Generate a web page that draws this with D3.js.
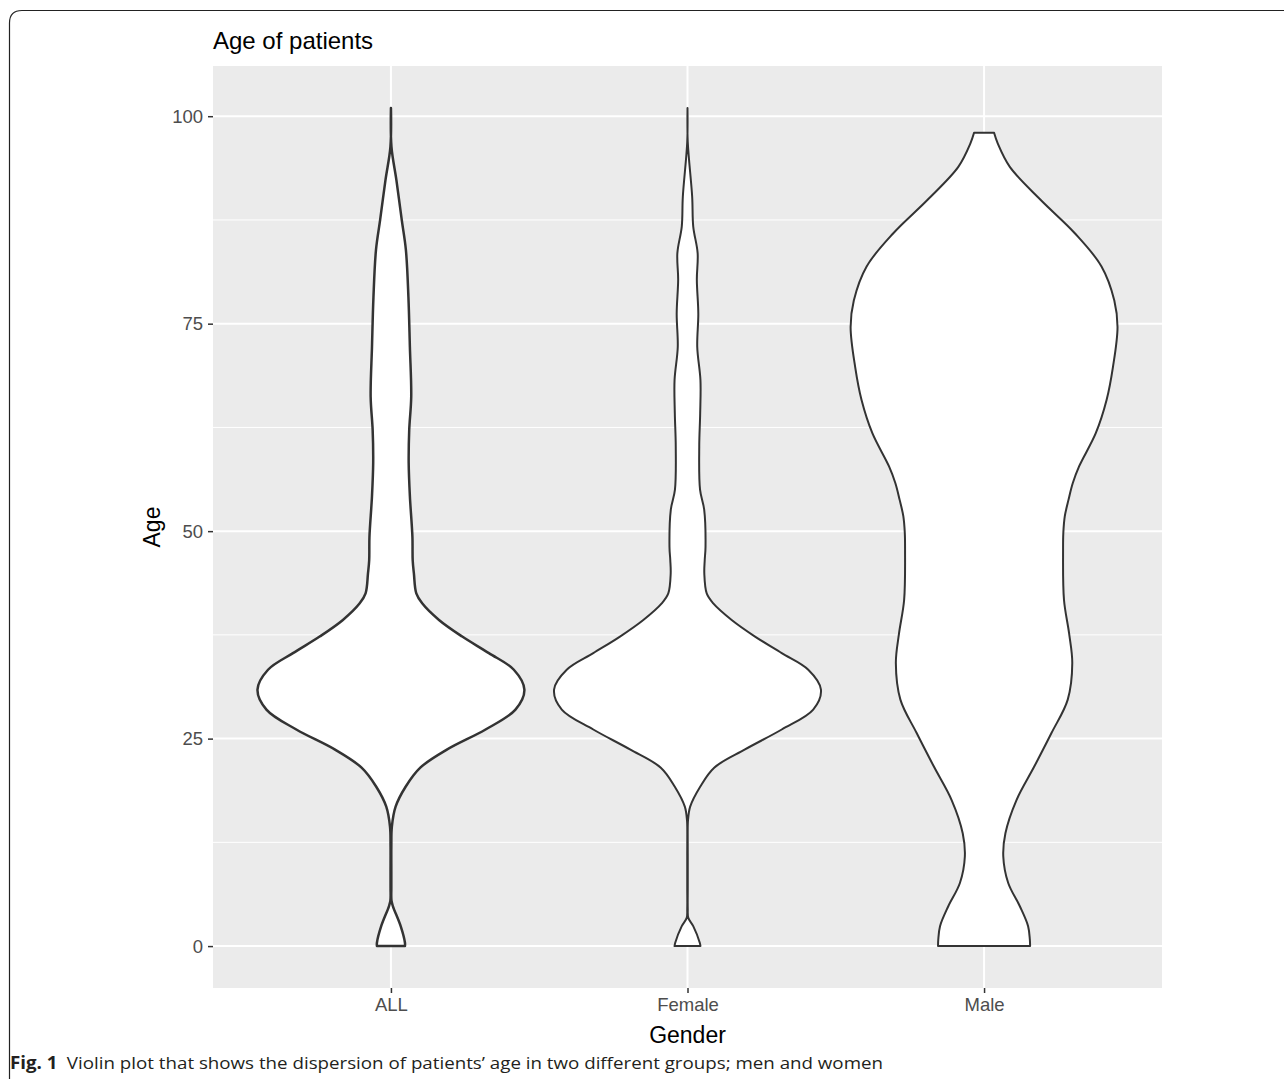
<!DOCTYPE html>
<html>
<head>
<meta charset="utf-8">
<script src="https://cdn.jsdelivr.net/npm/d3@7"></script>
<style>
  body { margin: 0; background: #fff; }
  svg { display: block; }
</style>
</head>
<body>
<div id="chart"></div>
<script>
// groups and y ticks
const groups = ["ALL", "Female", "Male"];
const yTicks = [0, 25, 50, 75, 100];
const yMinor = [12.5, 37.5, 62.5, 87.5];

// violin outlines: age and scaled width (1 = widest violin)
const allAge   = [101, 96.3, 92.3, 87.5, 83.9, 78.2, 72.2, 66.2, 62.2, 58.2, 54.2, 49.3, 46.5, 44.9, 42.5, 41.3, 39.3, 37.3, 35.3, 33.3, 30.9, 28.5, 26.1, 23.7, 21.5, 19.2, 16.8, 14.4, 12, 9, 7, 5.5, 4.8, 2.4, 0.4, 0];
const allWidth = [0, 0.004, 0.041, 0.081, 0.112, 0.131, 0.142, 0.152, 0.137, 0.133, 0.142, 0.161, 0.163, 0.172, 0.19, 0.234, 0.36, 0.534, 0.734, 0.921, 1.0, 0.933, 0.709, 0.422, 0.22, 0.11, 0.035, 0.007, 0.003, 0.003, 0.003, 0.004, 0.015, 0.073, 0.105, 0.105];

const femaleAge   = [101, 96.9, 90.3, 86.7, 83.5, 80.3, 76.2, 72.2, 68.2, 64.2, 60.2, 55, 52.6, 48.1, 46.5, 44.9, 42.5, 41.3, 39.3, 37.3, 35.3, 33.3, 30.9, 28.5, 26.1, 23.7, 21.5, 19.2, 16.8, 15.2, 14.5, 11, 7, 4.5, 3.4, 2.4, 0.4, 0];
const femaleWidth = [0, 0.002, 0.035, 0.043, 0.076, 0.07, 0.081, 0.073, 0.097, 0.095, 0.088, 0.094, 0.125, 0.135, 0.129, 0.126, 0.144, 0.193, 0.331, 0.506, 0.706, 0.905, 1.0, 0.942, 0.706, 0.431, 0.2, 0.095, 0.02, 0.004, 0.002, 0.002, 0.002, 0.002, 0.006, 0.043, 0.092, 0.097];

const maleAge   = [98, 96.7, 93.9, 89.9, 85.9, 81.9, 77.8, 74.6, 69.8, 65.8, 61.8, 57.8, 55.8, 53.8, 51.8, 49.8, 47.7, 41.7, 37.7, 34.1, 29.7, 25.7, 21.6, 17.6, 13.6, 10.8, 7.6, 4.8, 2.4, 0.8, 0];
const maleWidth = [0.075, 0.103, 0.193, 0.425, 0.68, 0.88, 0.976, 1.0, 0.966, 0.918, 0.837, 0.712, 0.665, 0.633, 0.605, 0.594, 0.592, 0.599, 0.637, 0.661, 0.627, 0.506, 0.375, 0.243, 0.16, 0.144, 0.181, 0.268, 0.33, 0.343, 0.345];

const violins = [
  {group: "ALL", age: allAge, width: allWidth, stroke: 2.5},
  {group: "Female", age: femaleAge, width: femaleWidth, stroke: 2},
  {group: "Male", age: maleAge, width: maleWidth, stroke: 2}
];

const W = 1284, H = 1079;
const panel = {left: 213, right: 1162, top: 66, bottom: 988};
const font = "'Liberation Sans', Arial, sans-serif";

const svg = d3.select("#chart").append("svg")
  .attr("width", W)
  .attr("height", H);

// figure frame (only top/left edges visible in the crop)
svg.append("path")
  .attr("d", "M9.5," + H + " L9.5,23 Q9.5,10.5 22,10.5 L" + W + ",10.5")
  .attr("fill", "none")
  .attr("stroke", "#222")
  .attr("stroke-width", 1.2);

const x = d3.scalePoint()
  .domain(groups)
  .range([panel.left, panel.right])
  .padding(0.6);

const y = d3.scaleLinear()
  .domain([-5.05, 106.05])
  .range([panel.bottom, panel.top]);

// panel background
svg.append("rect")
  .attr("x", panel.left)
  .attr("y", panel.top)
  .attr("width", panel.right - panel.left)
  .attr("height", panel.bottom - panel.top)
  .attr("fill", "#EBEBEB");

// grid
svg.selectAll(".minor").data(yMinor).enter().append("line")
  .attr("x1", panel.left).attr("x2", panel.right)
  .attr("y1", d => y(d)).attr("y2", d => y(d))
  .attr("stroke", "#fff").attr("stroke-width", 1);

svg.selectAll(".major").data(yTicks).enter().append("line")
  .attr("x1", panel.left).attr("x2", panel.right)
  .attr("y1", d => y(d)).attr("y2", d => y(d))
  .attr("stroke", "#fff").attr("stroke-width", 2);

svg.selectAll(".vmajor").data(groups).enter().append("line")
  .attr("y1", panel.top).attr("y2", panel.bottom)
  .attr("x1", d => x(d)).attr("x2", d => x(d))
  .attr("stroke", "#fff").attr("stroke-width", 2);

// violins
const halfMax = 0.45 * x.step();
violins.forEach(function(v) {
  const pts = v.age.map((a, i) => ({age: a, w: v.width[i]}));
  const cx = x(v.group);
  const area = d3.area()
    .y(d => y(d.age))
    .x0(d => cx - d.w * halfMax)
    .x1(d => cx + d.w * halfMax)
    .curve(d3.curveCatmullRom.alpha(0.5));
  svg.append("path")
    .datum(pts.slice().reverse())
    .attr("d", area)
    .attr("fill", "#fff")
    .attr("stroke", "#333333")
    .attr("stroke-width", v.stroke)
    .attr("stroke-linejoin", "round");
});

// axes
const yAxis = svg.append("g")
  .attr("transform", "translate(" + panel.left + ",0)")
  .call(d3.axisLeft(y).tickValues(yTicks).tickSize(5).tickPadding(5));
yAxis.select(".domain").remove();
yAxis.selectAll("line").attr("stroke", "#333").attr("stroke-width", 1.5);
yAxis.selectAll("text")
  .attr("fill", "#4D4D4D")
  .style("font-family", font)
  .style("font-size", "18.5px");

const xAxis = svg.append("g")
  .attr("transform", "translate(0," + panel.bottom + ")")
  .call(d3.axisBottom(x).tickSize(5).tickPadding(5));
xAxis.select(".domain").remove();
xAxis.selectAll("line").attr("stroke", "#333").attr("stroke-width", 1.5);
xAxis.selectAll("text")
  .attr("fill", "#4D4D4D")
  .style("font-family", font)
  .style("font-size", "18.5px");

// titles
svg.append("text")
  .attr("x", panel.left)
  .attr("y", 49)
  .style("font-family", font)
  .style("font-size", "24px")
  .attr("fill", "#000")
  .text("Age of patients");

svg.append("text")
  .attr("x", (panel.left + panel.right) / 2)
  .attr("y", 1043)
  .attr("text-anchor", "middle")
  .style("font-family", font)
  .style("font-size", "23px")
  .attr("fill", "#000")
  .text("Gender");

svg.append("text")
  .attr("transform", "translate(160," + (panel.top + panel.bottom) / 2 + ") rotate(-90)")
  .attr("text-anchor", "middle")
  .style("font-family", font)
  .style("font-size", "23px")
  .attr("fill", "#000")
  .text("Age");

// caption
const cap = svg.append("text")
  .attr("x", 10)
  .attr("y", 1069)
  .style("font-family", "'Liberation Sans Narrow', 'Open Sans', sans-serif")
  .style("font-size", "17px")
  .attr("fill", "#231f20")
  .attr("textLength", 873)
  .attr("lengthAdjust", "spacingAndGlyphs");
cap.append("tspan").attr("font-weight", "bold").text("Fig. 1");
cap.append("tspan").text("\u2002Violin plot that shows the dispersion of patients\u2019 age in two different groups; men and women");
</script>
</body>
</html>
